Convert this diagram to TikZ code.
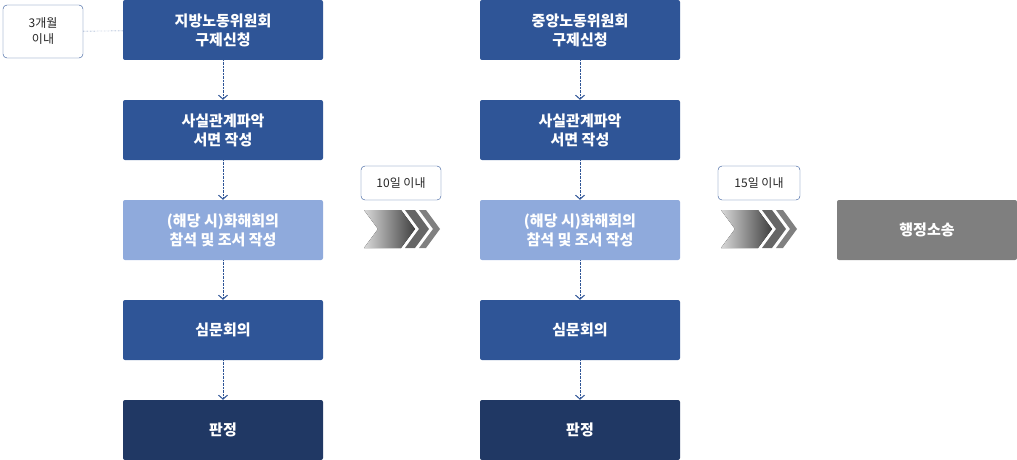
\documentclass[tikz,border=0pt]{standalone}
\usepackage{fontspec}
\setmainfont{Noto Sans CJK KR}
\usetikzlibrary{arrows.meta}
\definecolor{bb}{HTML}{2F5597}
\definecolor{lb}{HTML}{8FAADC}
\definecolor{db}{HTML}{203864}
\definecolor{gb}{HTML}{7F7F7F}
\tikzset{
 box/.style={rounded corners=2pt,minimum width=200pt,minimum height=60pt,inner sep=0pt,text=white,font=\fontsize{15}{19}\selectfont\bfseries,align=center},
 tag/.style={draw=bb,rounded corners=4pt,fill=white,inner sep=0pt,text=black!85,font=\fontsize{12}{16}\selectfont,align=center},
 con/.style={draw=bb,densely dotted,-{Straight Barb[length=4pt,width=9pt,line width=1pt]}},
 chev/.style={left color=black!15,right color=black!75}
}
\begin{document}
\begin{tikzpicture}[x=1pt,y=-1pt]
\useasboundingbox (0,0) rectangle (1017,460);
\foreach \c/\X in {1/223,2/580}{
 \node[box,fill=bb] (a\c) at (\X,30) {\ifnum\c=1 지방노동위원회\else 중앙노동위원회\fi\\구제신청};
 \node[box,fill=bb] (b\c) at (\X,130) {사실관계파악\\서면 작성};
 \node[box,fill=lb] (c\c) at (\X,230) {(해당 시)화해회의\\참석 및 조서 작성};
 \node[box,fill=bb] (d\c) at (\X,330) {심문회의};
 \node[box,fill=db] (e\c) at (\X,430) {판정};
 \draw[con] (a\c) -- (b\c);
 \draw[con] (b\c) -- (c\c);
 \draw[con] (c\c) -- (d\c);
 \draw[con] (d\c) -- (e\c);
}
\node[box,fill=gb,minimum width=180pt] (f) at (927,230) {행정소송};
\node[tag,minimum width=80pt,minimum height=53pt] (t0) at (43,31.5) {3개월\\이내};
\draw[bb,densely dotted] (t0) -- (a1);
\node[tag,minimum width=80pt,minimum height=34pt] (t1) at (401,183) {10일 이내};
\node[tag,minimum width=82pt,minimum height=34pt] (t2) at (759,183) {15일 이내};
\foreach \x in {364,721}{
 \fill[chev] (\x,210) -- (\x+37,210) -- (\x+51,229) -- (\x+37,248) -- (\x,248) -- (\x+14,229) -- cycle;
 \fill[black!60] (\x+41,210) -- (\x+51,210) -- (\x+65,229) -- (\x+51,248) -- (\x+41,248) -- (\x+55,229) -- cycle;
 \fill[black!50] (\x+55,210) -- (\x+62,210) -- (\x+76,229) -- (\x+62,248) -- (\x+55,248) -- (\x+69,229) -- cycle;
}
\end{tikzpicture}
\end{document}
